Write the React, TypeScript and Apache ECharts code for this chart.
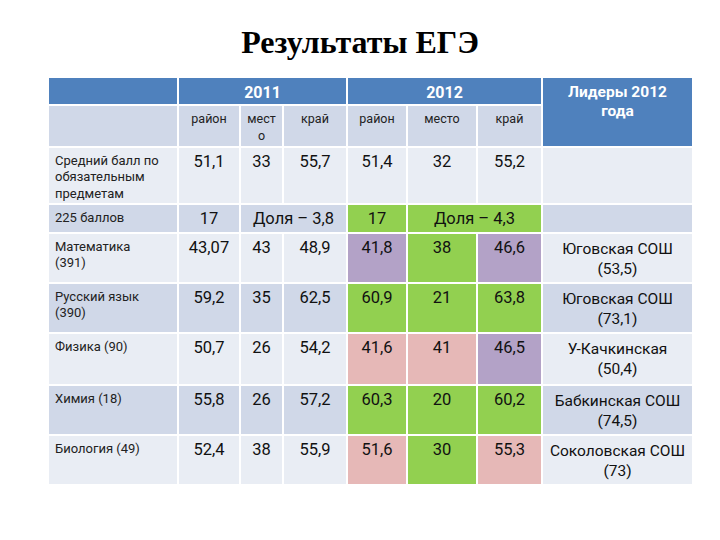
import React, { useEffect, useRef } from 'react';
import * as echarts from 'echarts';

// ---------- data ----------
const chartTitle = 'Результаты ЕГЭ';
const years = ['2011', '2012'];
const subHeaders = ['район', 'мест\nо', 'край', 'район', 'место', 'край'];
const leaderHeader = 'Лидеры 2012\nгода';
const rowLabels = [
  'Средний балл по\nобязательным\nпредметам',
  '225 баллов',
  'Математика\n(391)',
  'Русский язык\n(390)',
  'Физика (90)',
  'Химия (18)',
  'Биология (49)',
];
// index 0 = average of compulsory subjects, 1..5 = subjects
const district2011 = [51.1, 43.07, 59.2, 50.7, 55.8, 52.4];
const place2011 = [33, 43, 35, 26, 26, 38];
const region2011 = [55.7, 48.9, 62.5, 54.2, 57.2, 55.9];
const district2012 = [51.4, 41.8, 60.9, 41.6, 60.3, 51.6];
const place2012 = [32, 38, 21, 41, 20, 30];
const region2012 = [55.2, 46.6, 63.8, 46.5, 60.2, 55.3];
const count225 = [17, 17];
const share225 = [3.8, 4.3];
const leaderSchools = ['Юговская СОШ', 'Юговская СОШ', 'У-Качкинская', 'Бабкинская СОШ', 'Соколовская СОШ'];
const leaderScores = [53.5, 73.1, 50.4, 74.5, 73];
// highlight of the 2012 cells: g = green, p = purple, r = pink, '' = none
const mark2012District = ['', 'p', 'g', 'r', 'g', 'r'];
const mark2012Place = ['', 'g', 'g', 'r', 'g', 'g'];
const mark2012Region = ['', 'p', 'g', 'p', 'g', 'r'];
const mark225of2012 = 'g';

// ---------- layout / style ----------
const COL = [0, 130, 192, 235, 299, 359, 429, 494, 645];
const ROW = [0, 28, 70, 127, 156, 206, 256, 308, 358, 408];
const BLUE = '#4F81BD';
const DARK = '#D0D8E8';
const LIGHT = '#E9EDF4';
const MARKS: Record<string, string> = { g: '#92D050', p: '#B3A2C7', r: '#E6B8B7' };
const FONT = 'Roboto, "Noto Sans", sans-serif';

type Kind = 'blank' | 'year' | 'lhead' | 'sub' | 'label' | 'num' | 'leader';
interface Cell { c0: number; c1: number; r0: number; r1: number; text: string; fill: string; kind: Kind }

const fmt = (v: number) => String(v).replace('.', ',');
const band = (r: number) => (r % 2 === 1 ? DARK : LIGHT);

function buildCells(): Cell[] {
  const cells: Cell[] = [];
  const add = (c0: number, c1: number, r0: number, r1: number, text: string, fill: string, kind: Kind) =>
    cells.push({ c0, c1, r0, r1, text, fill, kind });
  // header
  add(0, 1, 0, 1, '', BLUE, 'blank');
  add(1, 4, 0, 1, years[0], BLUE, 'year');
  add(4, 7, 0, 1, years[1], BLUE, 'year');
  add(7, 8, 0, 2, leaderHeader, BLUE, 'lhead');
  add(0, 1, 1, 2, '', band(1), 'blank');
  subHeaders.forEach((s, i) => add(1 + i, 2 + i, 1, 2, s, band(1), 'sub'));
  const valueRow = (r: number, k: number) => {
    add(1, 2, r, r + 1, fmt(district2011[k]), band(r), 'num');
    add(2, 3, r, r + 1, fmt(place2011[k]), band(r), 'num');
    add(3, 4, r, r + 1, fmt(region2011[k]), band(r), 'num');
    add(4, 5, r, r + 1, fmt(district2012[k]), MARKS[mark2012District[k]] || band(r), 'num');
    add(5, 6, r, r + 1, fmt(place2012[k]), MARKS[mark2012Place[k]] || band(r), 'num');
    add(6, 7, r, r + 1, fmt(region2012[k]), MARKS[mark2012Region[k]] || band(r), 'num');
  };
  // average row
  add(0, 1, 2, 3, rowLabels[0], band(2), 'label');
  valueRow(2, 0);
  add(7, 8, 2, 3, '', band(2), 'blank');
  // 225 points row
  add(0, 1, 3, 4, rowLabels[1], band(3), 'label');
  add(1, 2, 3, 4, fmt(count225[0]), band(3), 'num');
  add(2, 4, 3, 4, 'Доля – ' + fmt(share225[0]), band(3), 'num');
  add(4, 5, 3, 4, fmt(count225[1]), MARKS[mark225of2012], 'num');
  add(5, 7, 3, 4, 'Доля – ' + fmt(share225[1]), MARKS[mark225of2012], 'num');
  add(7, 8, 3, 4, '', band(3), 'blank');
  // subjects
  for (let k = 1; k <= 5; k++) {
    const r = k + 3;
    add(0, 1, r, r + 1, rowLabels[k + 1], band(r), 'label');
    valueRow(r, k);
    add(7, 8, r, r + 1, leaderSchools[k - 1] + '\n(' + fmt(leaderScores[k - 1]) + ')', band(r), 'leader');
  }
  return cells;
}

export default function App() {
  const ref = useRef<HTMLDivElement>(null);
  useEffect(() => {
    if (!ref.current) return;
    const chart = echarts.init(ref.current, undefined, { renderer: 'svg' });
    const cells = buildCells();
    const data = cells.map((c) => [COL[c.c0], COL[c.c1], ROW[c.r0], ROW[c.r1]]);
    chart.setOption({
      animation: false,
      backgroundColor: '#ffffff',
      title: {
        text: chartTitle,
        left: 'center',
        top: 21,
        textStyle: { fontFamily: '"Liberation Serif", serif', fontWeight: 'bold', fontSize: 32, color: '#000' },
      },
      grid: { left: 48, top: 77, width: 645, height: 408 },
      xAxis: { type: 'value', min: 0, max: 645, show: false },
      yAxis: { type: 'value', min: 0, max: 408, inverse: true, show: false },
      series: [
        {
          type: 'custom',
          silent: true,
          data,
          encode: { x: [0, 1], y: [2, 3] },
          renderItem: (params: any, api: any) => {
            const cell = cells[params.dataIndex];
            const p0 = api.coord([api.value(0), api.value(2)]);
            const p1 = api.coord([api.value(1), api.value(3)]);
            const x = p0[0], y = p0[1], w = p1[0] - p0[0], h = p1[1] - p0[1];
            const children: any[] = [
              { type: 'rect', shape: { x, y, width: w, height: h }, style: { fill: cell.fill, stroke: '#ffffff', lineWidth: 2 } },
            ];
            if (cell.text) {
              let ts: any;
              switch (cell.kind) {
                case 'year':
                  ts = { x: x + w / 2, y: y + h / 2 + 1, align: 'center', verticalAlign: 'middle', fontSize: 16, fontWeight: 'bold', fill: '#fff', lineHeight: 18 };
                  break;
                case 'lhead':
                  ts = { x: x + w / 2, y: y + 5, align: 'center', verticalAlign: 'top', fontSize: 15.5, fontWeight: 'bold', fill: '#fff', lineHeight: 19 };
                  break;
                case 'sub':
                  ts = { x: x + w / 2, y: y + 5, align: 'center', verticalAlign: 'top', fontSize: 12.5, fill: '#222', lineHeight: 17 };
                  break;
                case 'label':
                  ts = { x: x + 7, y: y + 5, align: 'left', verticalAlign: 'top', fontSize: 13, fill: '#222', lineHeight: 16.5 };
                  break;
                case 'num':
                  ts = { x: x + w / 2, y: y + 4, align: 'center', verticalAlign: 'top', fontSize: 16.5, fill: '#111', lineHeight: 21 };
                  break;
                default:
                  ts = { x: x + w / 2, y: y + 6, align: 'center', verticalAlign: 'top', fontSize: 15.5, fill: '#111', lineHeight: 20 };
              }
              children.push({ type: 'text', style: { text: cell.text, fontFamily: FONT, ...ts } });
            }
            return { type: 'group', children };
          },
        },
      ],
    });
    return () => chart.dispose();
  }, []);
  return <div ref={ref} style={{ position: 'absolute', left: 0, top: 0, width: 720, height: 540 }} />;
}
